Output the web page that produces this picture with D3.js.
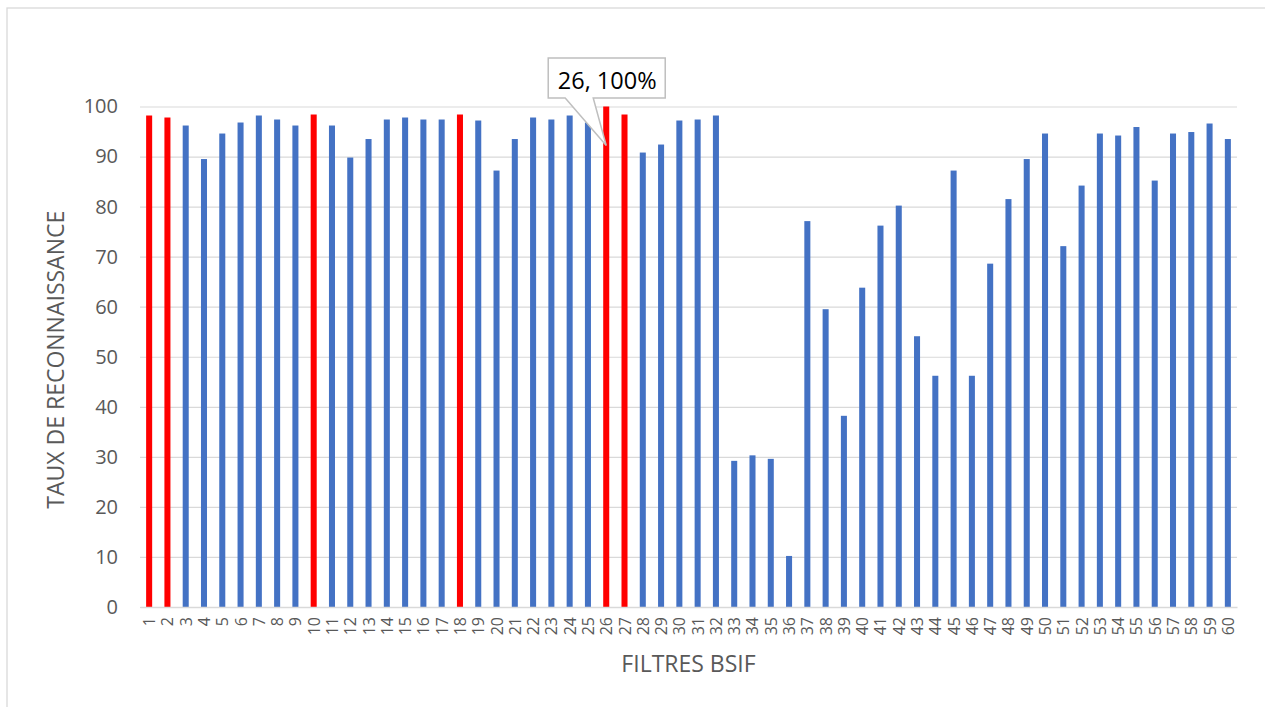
<!DOCTYPE html>
<html>
<head>
<meta charset="utf-8">
<script src="https://cdnjs.cloudflare.com/ajax/libs/d3/7.8.5/d3.min.js"></script>
<style>
  html, body { margin: 0; padding: 0; background: #fff; }
  svg { display: block; }
  text { font-family: "Open Sans", "Noto Sans", sans-serif; }
</style>
</head>
<body>
<svg id="chart" width="1265" height="707"></svg>
<script>
// Filter numbers along the x axis
const categories = [
  "1","2","3","4","5","6","7","8","9","10",
  "11","12","13","14","15","16","17","18","19","20",
  "21","22","23","24","25","26","27","28","29","30",
  "31","32","33","34","35","36","37","38","39","40",
  "41","42","43","44","45","46","47","48","49","50",
  "51","52","53","54","55","56","57","58","59","60"
];

// Recognition rate per filter (%)
const rates = [
  98.2, 97.8, 96.2, 89.5, 94.6, 96.8, 98.2, 97.4, 96.2, 98.4,
  96.2, 89.8, 93.5, 97.4, 97.8, 97.4, 97.4, 98.4, 97.2, 87.2,
  93.5, 97.8, 97.4, 98.2, 96.8, 100, 98.4, 90.8, 92.4, 97.2,
  97.4, 98.2, 29.2, 30.3, 29.6, 10.2, 77.1, 59.5, 38.2, 63.8,
  76.2, 80.2, 54.1, 46.2, 87.2, 46.2, 68.6, 81.5, 89.5, 94.6,
  72.1, 84.2, 94.6, 94.2, 95.9, 85.2, 94.6, 94.9, 96.6, 93.5
];

// Filters drawn in red
const highlighted = ["1", "2", "10", "18", "26", "27"];

// Value axis ticks
const yTicks = [0, 10, 20, 30, 40, 50, 60, 70, 80, 90, 100];

// Callout on the best filter
const calloutCategory = "26";
const calloutText = "26, 100%";

const data = categories.map((c, i) => ({ cat: c, value: rates[i] }));

const svg = d3.select("#chart");
const plot = { left: 140, right: 1237, top: 106.5, bottom: 607 };

// Chart frame
svg.append("rect")
  .attr("x", 7).attr("y", 8)
  .attr("width", 1400).attr("height", 900)
  .attr("fill", "#fff")
  .attr("stroke", "#d9d9d9").attr("stroke-width", 1.3);

const x = d3.scaleBand()
  .domain(categories)
  .range([plot.left, plot.right])
  .paddingInner(0.67)
  .paddingOuter(0.335);

const y = d3.scaleLinear()
  .domain([0, 100])
  .range([plot.bottom, plot.top]);

// Horizontal gridlines and value labels
const yAxis = d3.axisLeft(y)
  .tickValues(yTicks)
  .tickSize(-(plot.right - plot.left))
  .tickPadding(22)
  .tickFormat(d3.format("d"));

const gy = svg.append("g")
  .attr("transform", `translate(${plot.left},0)`)
  .call(yAxis);
gy.select(".domain").remove();
gy.selectAll(".tick line")
  .attr("stroke", "#d9d9d9").attr("stroke-width", 1.2);
gy.selectAll(".tick text")
  .attr("fill", "#595959")
  .style("font-size", "20px");

// Bars
svg.append("g")
  .selectAll("rect")
  .data(data)
  .join("rect")
  .attr("x", d => x(d.cat))
  .attr("y", d => y(d.value))
  .attr("width", x.bandwidth())
  .attr("height", d => y(0) - y(d.value))
  .attr("fill", d => highlighted.includes(d.cat) ? "#ff0000" : "#4472c4");

// Category axis
const xAxis = d3.axisBottom(x).tickSize(0).tickPadding(0);
const gx = svg.append("g")
  .attr("transform", `translate(0,${plot.bottom})`)
  .call(xAxis);
gx.select(".domain")
  .attr("stroke", "#d9d9d9").attr("stroke-width", 1.3);
gx.selectAll(".tick text")
  .attr("fill", "#595959")
  .style("font-size", "16px")
  .attr("text-anchor", "end")
  .attr("dy", null)
  .attr("y", 0)
  .attr("transform", "translate(0,10) rotate(-90)")
  .attr("dominant-baseline", "central");

// Axis titles
svg.append("text")
  .attr("transform", `translate(64,${(plot.top + plot.bottom) / 2 + 3}) rotate(-90)`)
  .attr("text-anchor", "middle")
  .attr("fill", "#595959")
  .style("font-size", "23px")
  .text("TAUX DE RECONNAISSANCE");

svg.append("text")
  .attr("x", (plot.left + plot.right) / 2)
  .attr("y", 672)
  .attr("text-anchor", "middle")
  .attr("fill", "#595959")
  .style("font-size", "23px")
  .text("FILTRES BSIF");

// Callout pointing at the top bar
const cd = data.find(d => d.cat === calloutCategory);
const tipX = x(cd.cat) + x.bandwidth() / 2;
const tipY = y(cd.value) + 39;
const box = { x: tipX - 58, y: y(cd.value) - 48.5, w: 117, h: 40 };
const baseL = box.x + 17, baseR = box.x + 45;
const path = d3.path();
path.moveTo(box.x, box.y);
path.lineTo(box.x + box.w, box.y);
path.lineTo(box.x + box.w, box.y + box.h);
path.lineTo(baseR, box.y + box.h);
path.lineTo(tipX, tipY);
path.lineTo(baseL, box.y + box.h);
path.lineTo(box.x, box.y + box.h);
path.closePath();
svg.append("path")
  .attr("d", path.toString())
  .attr("fill", "#fff")
  .attr("stroke", "#bfbfbf")
  .attr("stroke-width", 1.5);
svg.append("text")
  .attr("x", box.x + box.w / 2 + 0.5)
  .attr("y", box.y + 31)
  .attr("text-anchor", "middle")
  .attr("fill", "#000")
  .style("font-size", "23.5px")
  .text(calloutText);
</script>
</body>
</html>
